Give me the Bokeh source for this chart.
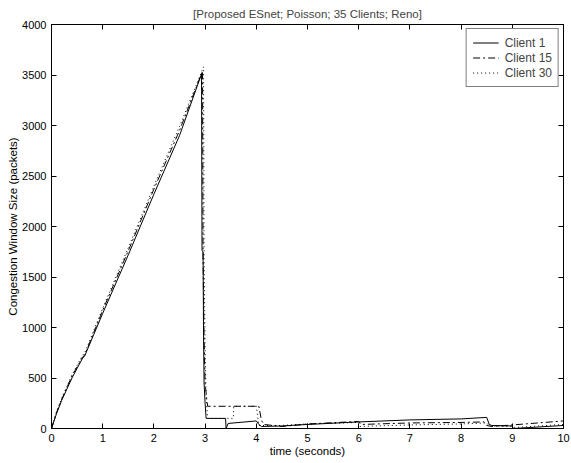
from bokeh.plotting import figure
from bokeh.models import LinearAxis, Range1d, Legend, LegendItem, FixedTicker
from bokeh.embed import file_html
from bokeh.resources import INLINE

title_text = "[Proposed ESnet; Poisson; 35 Clients; Reno]"
x_label = "time (seconds)"
y_label = "Congestion Window Size (packets)"
x_ticks = [0, 1, 2, 3, 4, 5, 6, 7, 8, 9, 10]
y_ticks = [0, 500, 1000, 1500, 2000, 2500, 3000, 3500, 4000]

c1_t = [0, 0.1, 0.2, 0.4, 0.6, 0.65, 1.0, 1.5, 2.0, 2.5, 2.93, 2.94, 2.96, 2.97, 2.98,
        3.0, 3.02, 3.4, 3.41, 3.45, 4.0, 4.05, 4.1, 4.5, 5.0, 6.0, 7.0, 8.0, 8.5, 8.55,
        8.6, 9.0, 9.02, 10.0]
c1_v = [0, 150, 280, 500, 690, 720, 1140, 1720, 2320, 2900, 3510, 1760, 1750, 900, 450,
        250, 100, 100, 0, 50, 75, 40, 20, 25, 40, 65, 85, 95, 110, 40,
        30, 25, 0, 30]

c15_t = [0, 0.1, 0.2, 0.4, 0.6, 0.65, 1.0, 1.5, 2.0, 2.5, 2.95, 2.96, 2.98, 3.0,
         3.03, 3.05, 4.05, 4.1, 4.15, 4.5, 5.0, 6.0, 6.05, 7.0, 8.0, 8.45, 8.5, 8.6,
         9.0, 10.0]
c15_v = [0, 160, 290, 520, 700, 730, 1170, 1760, 2370, 2950, 3540, 1700, 900, 450,
         300, 220, 220, 80, 40, 20, 45, 70, 40, 55, 60, 65, 30, 20,
         35, 75]

c30_t = [0, 0.1, 0.2, 0.4, 0.6, 0.65, 1.0, 1.5, 2.0, 2.5, 2.97, 2.98, 3.0, 3.02,
         3.05, 3.55, 3.56, 4.0, 4.05, 4.5, 5.0, 6.0, 6.02, 7.0, 8.0, 8.5, 8.55, 9.0,
         9.05, 10.0]
c30_v = [0, 170, 300, 530, 720, 750, 1190, 1790, 2400, 2990, 3580, 1700, 800, 300,
         100, 100, 220, 220, 30, 30, 45, 60, 20, 35, 45, 55, 25, 20,
         10, 40]

FONT = "Liberation Sans"

p = figure(width=571, height=463, output_backend="svg", toolbar_location=None,
           x_range=Range1d(0, 10), y_range=Range1d(0, 4000),
           min_border_left=51, min_border_right=8, min_border_top=24, min_border_bottom=35)

p.title.text = title_text
p.title.align = "center"
p.title.text_font = FONT
p.title.text_font_size = "11.5px"
p.title.text_font_style = "normal"
p.title.standoff = 9

p.outline_line_color = "black"
p.outline_line_width = 1
p.xgrid.visible = False
p.ygrid.visible = False
p.background_fill_color = "white"
p.border_fill_color = "white"

for ax in p.xaxis:
    ax.ticker = FixedTicker(ticks=x_ticks)
    ax.axis_label = x_label
for ax in p.yaxis:
    ax.ticker = FixedTicker(ticks=y_ticks)
    ax.axis_label = y_label

top = LinearAxis(ticker=FixedTicker(ticks=x_ticks),
                 major_label_overrides={t: "" for t in x_ticks})
right = LinearAxis(ticker=FixedTicker(ticks=y_ticks),
                   major_label_overrides={t: "" for t in y_ticks})
p.add_layout(top, "above")
p.add_layout(right, "right")

for ax in p.xaxis + p.yaxis:
    ax.major_tick_in = 5
    ax.major_tick_out = 0
    ax.minor_tick_in = 0
    ax.minor_tick_out = 0
    ax.axis_line_color = "black"
    ax.major_tick_line_color = "black"
    ax.major_label_text_font = FONT
    ax.major_label_text_font_size = "11px"
    ax.major_label_text_color = "black"
    ax.axis_label_text_font = FONT
    ax.axis_label_text_font_size = "11.5px"
    ax.axis_label_text_font_style = "normal"
    ax.axis_label_text_color = "black"
    ax.major_label_standoff = 5
    ax.axis_label_standoff = 0

p.xaxis[0].major_label_standoff = 4
p.xaxis[0].axis_label_standoff = 3

for ax in (top, right):
    ax.major_label_standoff = 0
    ax.axis_label = None

r1 = p.line(c1_t, c1_v, line_color="black", line_width=1)
r15 = p.line(c15_t, c15_v, line_color="black", line_width=1, line_dash="7 3 2 3")
r30 = p.line(c30_t, c30_v, line_color="black", line_width=1, line_dash="1 3")

legend = Legend(items=[LegendItem(label="Client 1", renderers=[r1]),
                       LegendItem(label="Client 15", renderers=[r15]),
                       LegendItem(label="Client 30", renderers=[r30])],
                location="top_right")
legend.label_text_font = FONT
legend.label_text_font_size = "12px"
legend.border_line_color = "black"
legend.border_line_width = 1
legend.glyph_height = 15
legend.glyph_width = 26
legend.label_height = 15
legend.spacing = 0
legend.padding = 6
legend.margin = 4
legend.label_standoff = 6
p.add_layout(legend)

open("out.html", "w").write(file_html(p, INLINE))
